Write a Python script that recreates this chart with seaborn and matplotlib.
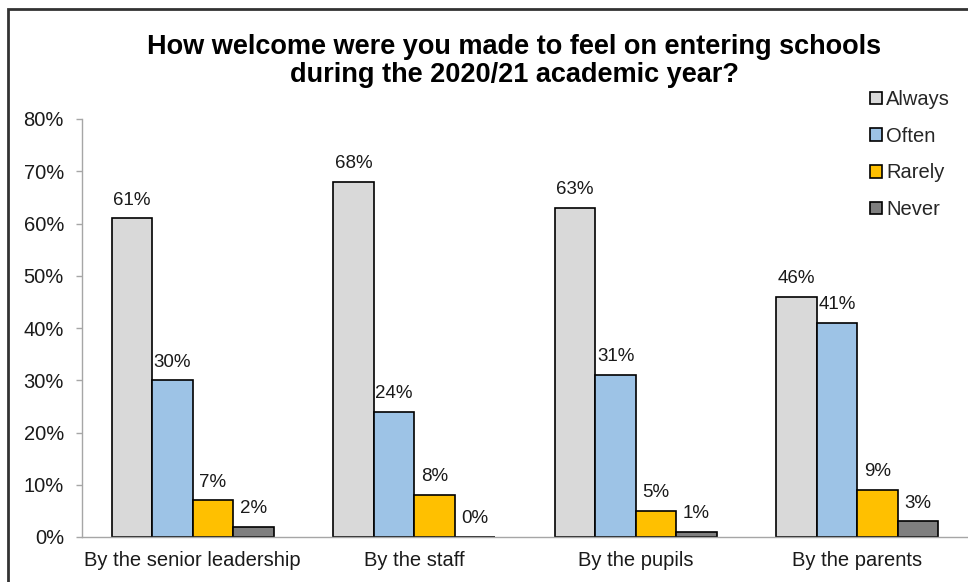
import matplotlib
matplotlib.use("Agg")
import matplotlib.pyplot as plt
import seaborn as sns
import pandas as pd
from matplotlib.patches import Rectangle

categories = ["By the senior leadership", "By the staff", "By the pupils", "By the parents"]
series = ["Always", "Often", "Rarely", "Never"]
always = [61, 68, 63, 46]
often = [30, 24, 31, 41]
rarely = [7, 8, 5, 9]
never = [2, 0, 1, 3]
colors = ["#D9D9D9", "#9DC3E6", "#FFC000", "#7F7F7F"]
title = "How welcome were you made to feel on entering schools\nduring the 2020/21 academic year?"

values = {"Always": always, "Often": often, "Rarely": rarely, "Never": never}
rows = []
for s in series:
    for c, v in zip(categories, values[s]):
        rows.append({"Category": c, "Response": s, "Value": v / 100})
df = pd.DataFrame(rows)

sns.set_theme(style="white")
plt.rcParams["font.family"] = ["Liberation Sans", "DejaVu Sans"]

fig = plt.figure(figsize=(9.68, 5.82), dpi=100)
ax = fig.add_axes([82 / 968, 1 - 537 / 582, 1 - 82 / 968, (537 - 119) / 582])

sns.barplot(data=df, x="Category", y="Value", hue="Response", order=categories,
            hue_order=series, palette=colors, width=0.73, gap=0,
            edgecolor="black", linewidth=1.2, saturation=1, ax=ax, legend=True)

for cont, s in zip(ax.containers, series):
    ax.bar_label(cont, labels=[f"{v}%" for v in values[s]], padding=7,
                 fontsize=13.5, color="#1a1a1a")

ax.set_ylim(0, 0.8)
ax.set_xlim(-0.5, 3.5)
ax.set_yticks([i / 10 for i in range(9)])
ax.set_yticklabels([f"{i * 10}%" for i in range(9)])
ax.set_xlabel("")
ax.set_ylabel("")
for sp in ["top", "right"]:
    ax.spines[sp].set_visible(False)
ax.spines["left"].set_color("#A6A6A6")
ax.spines["bottom"].set_color("#A6A6A6")
ax.spines["left"].set_linewidth(1.0)
ax.spines["bottom"].set_linewidth(1.0)
ax.tick_params(axis="y", length=4, width=1, color="#A6A6A6", pad=9, labelsize=14.5, labelcolor="#1a1a1a", left=True)
ax.tick_params(axis="x", length=0, pad=10, labelsize=14.5, labelcolor="#1a1a1a")
ax.set_facecolor("white")

leg = ax.legend(loc="upper left", bbox_to_anchor=(870 / 968, 1 - 90 / 582),
                bbox_transform=fig.transFigure, frameon=False, fontsize=14.5,
                handlelength=0.6, handleheight=0.6, handletextpad=0.2,
                labelspacing=0.88, borderpad=0, borderaxespad=0)
for h in leg.legend_handles:
    h.set_edgecolor("black")
    h.set_linewidth(1.2)

fig.text(514 / 968, 1 - 34 / 582, title, ha="center", va="top", fontsize=19.5,
         fontweight="bold", linespacing=1.1, color="black")

fig.add_artist(Rectangle((8 / 968, -0.1), 1.2, 1 - 9 / 582 + 0.1,
                         transform=fig.transFigure, fill=False,
                         edgecolor="#333333", linewidth=2, clip_on=False))

fig.savefig("out.png", dpi=100, facecolor="white")
